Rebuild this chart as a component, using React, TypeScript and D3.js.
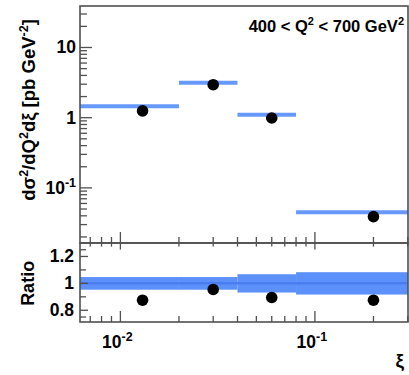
import React, {useRef, useEffect} from 'react';
import * as d3 from 'd3';

// bins in xi
const binLo = [0.005, 0.02, 0.04, 0.08];
const binHi = [0.02, 0.04, 0.08, 1];
// data points
const xiPts = [0.013, 0.03, 0.06, 0.2];
const predVals = [1.45, 3.15, 1.1, 0.045];
const dataVals = [1.25, 2.95, 0.99, 0.039];
const dataErr = [0.08, 0.15, 0.05, 0.003];
// ratio panel
const ratioVals = [0.875, 0.955, 0.895, 0.875];
const ratioErr = [0.03, 0.025, 0.025, 0.03];
const bandErr = [0.047, 0.047, 0.068, 0.083];
// tick labels
const yMajor = [0.1, 1, 10];
const yMajorLabels = ['10', '1', '10'];
const yMajorSup = ['-1', '', ''];
const ratioTicks = [0.8, 1, 1.2];
const ratioLabels = ['0.8', '1', '1.2'];
const ratioMinor = [0.75, 0.9, 1.1, 1.25];
const xMajor = [0.01, 0.1];
const xMajorSup = ['-2', '-1'];

export default function App() {
  const ref = useRef(null);

  useEffect(() => {
    const W = 409, H = 375;
    const L = 80, R = 408;
    const mTop = 6, mBot = 243;
    const rTop = 243, rBot = 322;
    const font = 'Liberation Sans, Arial, sans-serif';
    const frameCol = '#505050';
    const lineBlue = '#6699fb';
    const bandBlue = '#5c90fa';
    const centerBlue = '#4a7ef0';

    const svg = d3.select(ref.current);
    svg.selectAll('*').remove();
    svg.attr('width', W).attr('height', H);

    const x = d3.scaleLog().domain([0.0062, 0.301]).range([L, R]);
    const y = d3.scaleLog().domain([0.0164, 39]).range([mBot, mTop]);
    const yr = d3.scaleLinear().domain([0.713, 1.3]).range([rBot, rTop]);

    const clipM = svg.append('clipPath').attr('id', 'clipM');
    clipM.append('rect').attr('x', L).attr('y', mTop).attr('width', R - L).attr('height', mBot - mTop);
    const clipR = svg.append('clipPath').attr('id', 'clipR');
    clipR.append('rect').attr('x', L).attr('y', rTop).attr('width', R - L).attr('height', rBot - rTop);

    // ---- main panel ----
    const gm = svg.append('g').attr('clip-path', 'url(#clipM)');
    binLo.forEach((lo, i) => {
      gm.append('line')
        .attr('x1', x(lo)).attr('x2', x(binHi[i]))
        .attr('y1', y(predVals[i])).attr('y2', y(predVals[i]))
        .attr('stroke', lineBlue).attr('stroke-width', 4);
    });
    xiPts.forEach((xi, i) => {
      gm.append('line')
        .attr('x1', x(xi)).attr('x2', x(xi))
        .attr('y1', y(dataVals[i] - dataErr[i])).attr('y2', y(dataVals[i] + dataErr[i]))
        .attr('stroke', '#000').attr('stroke-width', 2);
      gm.append('circle')
        .attr('cx', x(xi)).attr('cy', y(dataVals[i]))
        .attr('r', 5.8).attr('fill', '#000');
    });

    // ---- ratio panel ----
    const gr = svg.append('g').attr('clip-path', 'url(#clipR)');
    binLo.forEach((lo, i) => {
      gr.append('rect')
        .attr('x', x(lo)).attr('width', x(binHi[i]) - x(lo))
        .attr('y', yr(1 + bandErr[i])).attr('height', yr(1 - bandErr[i]) - yr(1 + bandErr[i]))
        .attr('fill', bandBlue);
    });
    gr.append('line')
      .attr('x1', L).attr('x2', R).attr('y1', yr(1)).attr('y2', yr(1))
      .attr('stroke', centerBlue).attr('stroke-width', 2.5);
    xiPts.forEach((xi, i) => {
      gr.append('line')
        .attr('x1', x(xi)).attr('x2', x(xi))
        .attr('y1', yr(ratioVals[i] - ratioErr[i])).attr('y2', yr(ratioVals[i] + ratioErr[i]))
        .attr('stroke', '#000').attr('stroke-width', 2);
      gr.append('circle')
        .attr('cx', x(xi)).attr('cy', yr(ratioVals[i]))
        .attr('r', 5.8).attr('fill', '#000');
    });

    // ---- frames ----
    [[mTop, mBot], [rTop, rBot]].forEach(([t, b]) => {
      svg.append('rect')
        .attr('x', L).attr('y', t).attr('width', R - L).attr('height', b - t)
        .attr('fill', 'none').attr('stroke', frameCol).attr('stroke-width', 1.6);
    });

    // x ticks
    const xTickVals = [];
    for (let d = 0.001; d < 1; d *= 10) {
      for (let k = 1; k < 10; k++) {
        const v = +(k * d).toPrecision(3);
        if (v >= x.domain()[0] && v <= x.domain()[1]) xTickVals.push({v, major: k === 1});
      }
    }
    const tk = svg.append('g').attr('stroke', frameCol).attr('stroke-width', 1.3);
    xTickVals.forEach(t => {
      const len = t.major ? 11 : 6;
      const px = x(t.v);
      tk.append('line').attr('x1', px).attr('x2', px).attr('y1', mBot).attr('y2', mBot - len);
      tk.append('line').attr('x1', px).attr('x2', px).attr('y1', rBot).attr('y2', rBot - len);
      tk.append('line').attr('x1', px).attr('x2', px).attr('y1', rTop).attr('y2', rTop + len * 0.6);
    });

    // y ticks main
    for (let d = 0.01; d < 100; d *= 10) {
      for (let k = 1; k < 10; k++) {
        const v = +(k * d).toPrecision(3);
        if (v < y.domain()[0] || v > y.domain()[1]) continue;
        const len = k === 1 ? 12 : 7;
        tk.append('line').attr('x1', L).attr('x2', L + len).attr('y1', y(v)).attr('y2', y(v));
      }
    }
    // y ticks ratio
    ratioTicks.forEach(v => {
      tk.append('line').attr('x1', L).attr('x2', L + 8).attr('y1', yr(v)).attr('y2', yr(v));
    });
    ratioMinor.forEach(v => {
      tk.append('line').attr('x1', L).attr('x2', L + 6).attr('y1', yr(v)).attr('y2', yr(v));
    });

    // ---- labels ----
    const txt = (px, py, anchor, size) => svg.append('text')
      .attr('x', px).attr('y', py)
      .attr('text-anchor', anchor)
      .attr('font-family', font).attr('font-weight', 'bold')
      .attr('font-size', size).attr('fill', '#000');

    yMajor.forEach((v, i) => {
      const t = txt(76, y(v) + 6, 'end', 17.5).text(yMajorLabels[i]);
      if (yMajorSup[i]) {
        t.append('tspan').attr('dy', -7).attr('font-size', 12.5).text(yMajorSup[i]);
      }
    });
    ratioTicks.forEach((v, i) => {
      txt(74, yr(v) + 6, 'end', 17.5).text(ratioLabels[i]);
    });
    xMajor.forEach((v, i) => {
      const t = txt(x(v) - 3, 348, 'middle', 17.5).text('10');
      t.append('tspan').attr('dy', -7).attr('font-size', 12.5).text(xMajorSup[i]);
    });
    txt(404, 367, 'end', 19).text('ξ');

    // title
    const tt = txt(404, 32, 'end', 16.5).text('400 < Q');
    tt.append('tspan').attr('dy', -7).attr('font-size', 11).text('2');
    tt.append('tspan').attr('dy', 7).text(' < 700 GeV');
    tt.append('tspan').attr('dy', -7).attr('font-size', 11).text('2');

    // y titles
    const yt = svg.append('text')
      .attr('transform', `translate(35,110) rotate(-90)`)
      .attr('text-anchor', 'middle')
      .attr('font-family', font).attr('font-weight', 'bold')
      .attr('font-size', 18.5).attr('fill', '#000');
    yt.append('tspan').text('dσ');
    yt.append('tspan').attr('dy', -7).attr('font-size', 12.5).text('2');
    yt.append('tspan').attr('dy', 7).text('/dQ');
    yt.append('tspan').attr('dy', -7).attr('font-size', 12.5).text('2');
    yt.append('tspan').attr('dy', 7).text('dξ [pb GeV');
    yt.append('tspan').attr('dy', -7).attr('font-size', 12.5).text('-2');
    yt.append('tspan').attr('dy', 7).text(']');

    svg.append('text')
      .attr('transform', `translate(34,${yr(1)}) rotate(-90)`)
      .attr('text-anchor', 'middle')
      .attr('font-family', font).attr('font-weight', 'bold')
      .attr('font-size', 18).attr('fill', '#000')
      .text('Ratio');
  }, []);

  return (
    <svg ref={ref} style={{position: 'absolute', left: 0, top: 0, background: '#fff'}}></svg>
  );
}
